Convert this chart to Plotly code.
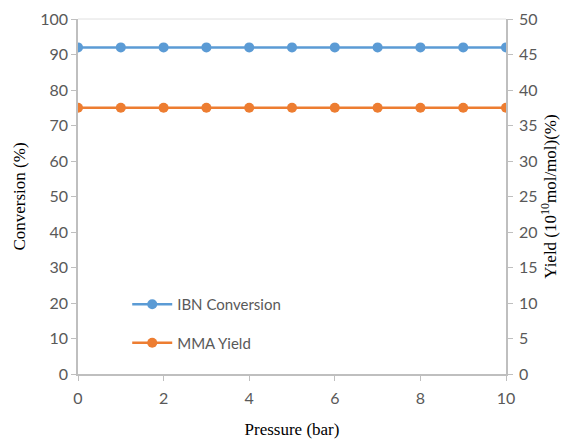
import plotly.graph_objects as go

pressure = [0, 1, 2, 3, 4, 5, 6, 7, 8, 9, 10]
ibn_conversion = [92, 92, 92, 92, 92, 92, 92, 92, 92, 92, 92]
mma_yield = [37.5, 37.5, 37.5, 37.5, 37.5, 37.5, 37.5, 37.5, 37.5, 37.5, 37.5]

tick_font = dict(family="Lato, Open Sans, sans-serif", size=16, color="#595959")
title_font = dict(family="Liberation Serif, Times New Roman, serif", size=17, color="#000000")

fig = go.Figure()
fig.add_trace(go.Scatter(x=pressure, y=ibn_conversion, name="IBN Conversion", legendgroup="a",
                         mode="lines+markers", line=dict(color="#5B9BD5", width=2.5),
                         marker=dict(size=10, color="#5B9BD5"), yaxis="y"))
fig.add_trace(go.Scatter(x=pressure, y=mma_yield, name="MMA Yield", legendgroup="b",
                         mode="lines+markers", line=dict(color="#ED7D31", width=2.5),
                         marker=dict(size=10, color="#ED7D31"), yaxis="y2"))

fig.update_layout(
    width=562, height=431,
    margin=dict(l=70, r=64, t=11, b=65, autoexpand=False),
    plot_bgcolor="white", paper_bgcolor="white",
    showlegend=True,
    legend=dict(x=0.115, y=0.2425, xanchor="left", yanchor="top",
                font=dict(family="Lato, Open Sans, sans-serif", size=15, color="#595959"),
                bgcolor="rgba(0,0,0,0)", traceorder="grouped", tracegroupgap=16, itemwidth=40),
    xaxis=dict(range=[0, 10], tickvals=[0, 2, 4, 6, 8, 10], showgrid=False, zeroline=False,
               showline=True, linecolor="#BFBFBF", linewidth=1.5, automargin=False,
               ticks="outside", ticklen=5, tickcolor="#BFBFBF", ticklabelstandoff=4,
               tickfont=tick_font,
               title=dict(text="Pressure (bar)", font=title_font, standoff=17)),
    yaxis=dict(range=[0, 100], dtick=10, showgrid=False, zeroline=False,
               showline=True, linecolor="#BFBFBF", linewidth=1.5, automargin=False,
               ticks="outside", ticklen=5, tickcolor="#BFBFBF", ticklabelstandoff=0,
               tickfont=tick_font,
               title=dict(text="Conversion (%)", font=title_font, standoff=10)),
    yaxis2=dict(range=[0, 50], dtick=5, overlaying="y", side="right", showgrid=False,
                zeroline=False, showline=True, linecolor="#BFBFBF", linewidth=1.5,
                automargin=False,
                ticks="outside", ticklen=5, tickcolor="#BFBFBF", ticklabelstandoff=3,
                tickfont=tick_font,
                title=dict(text="Yield (10<sup>10</sup>mol/mol)(%)", font=title_font, standoff=8)),
    shapes=[dict(type="line", xref="paper", yref="paper", x0=0, x1=1, y0=1, y1=1,
                 line=dict(color="#E0E0E0", width=1))],
)

fig.write_html("out.html")
